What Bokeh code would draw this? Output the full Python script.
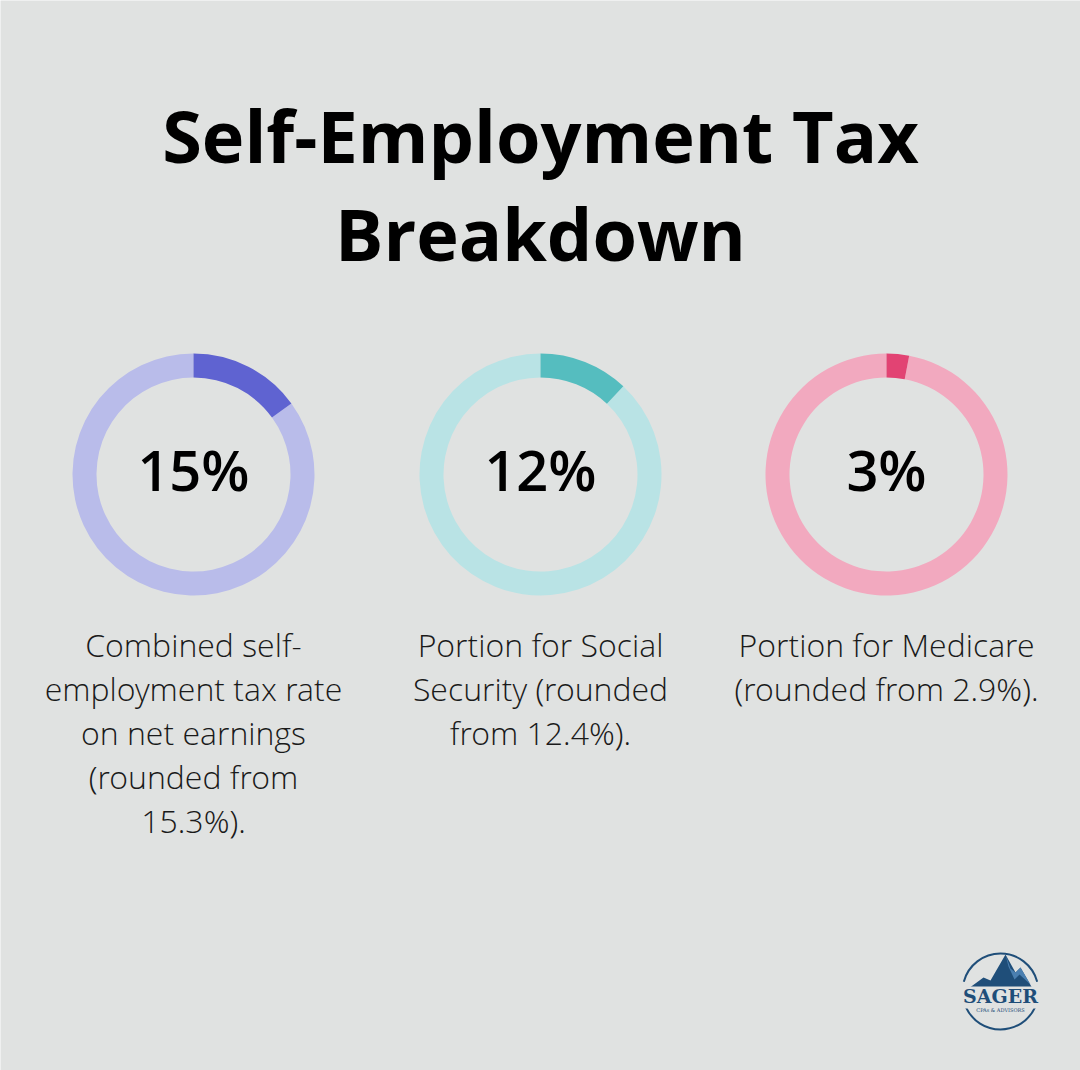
from bokeh.plotting import figure
from bokeh.models import Range1d
from bokeh.core.properties import value
from bokeh.embed import file_html
from bokeh.resources import INLINE
import math

# --- data ---------------------------------------------------------------
title_lines = ["Self-Employment Tax", "Breakdown"]
rate_labels = ["15%", "12%", "3%"]
rate_values = [15, 12, 3]
descriptions = [
    ["Combined self-", "employment tax rate", "on net earnings", "(rounded from", "15.3%)."],
    ["Portion for Social", "Security (rounded", "from 12.4%)."],
    ["Portion for Medicare", "(rounded from 2.9%)."],
]
dark_colors = ["#5F63D1", "#55BDBF", "#E24373"]
light_colors = ["#B9BCEA", "#B9E3E5", "#F2A9BF"]

# --- canvas -------------------------------------------------------------
W, H = 1080, 1070
BG = "#E0E2E1"

p = figure(width=W, height=H, x_range=Range1d(0, W), y_range=Range1d(0, H),
           output_backend="svg", toolbar_location=None, min_border=0)
p.axis.visible = False
p.grid.visible = False
p.outline_line_color = None
p.background_fill_color = BG
p.border_fill_color = BG


def Y(py, size=0):
    """Top-down pixel row -> data y; lifts text so its baseline lands on py."""
    return H - py + 0.42 * size


FONT = value("Open Sans")

# title
TS = 72
p.text(x=[W / 2, W / 2], y=[Y(165, TS), Y(263, TS)], text=title_lines,
       text_font=FONT, text_font_style="bold", text_font_size=f"{TS}px",
       text_align="center", text_baseline="alphabetic", text_color="#000000")

# donuts
centers_x = [193, 540, 886]
cy = Y(474)
r_out, r_in = 121, 97
top = math.pi / 2
PS, DS = 56, 32
for cx, v, lab, dc, lc, desc in zip(centers_x, rate_values, rate_labels,
                                    dark_colors, light_colors, descriptions):
    sweep = v / 100 * 2 * math.pi
    # remaining share of the ring
    p.annular_wedge(x=[cx], y=[cy], inner_radius=r_in, outer_radius=r_out,
                    start_angle=top, end_angle=top - sweep + 2 * math.pi,
                    direction="anticlock", fill_color=lc, line_color=None)
    # highlighted share, clockwise from 12 o'clock
    p.annular_wedge(x=[cx], y=[cy], inner_radius=r_in, outer_radius=r_out,
                    start_angle=top - sweep, end_angle=top,
                    direction="anticlock", fill_color=dc, line_color=None)
    p.text(x=[cx], y=[Y(492, PS)], text=[lab], text_font=value("Open Sans SemiBold"),
           text_font_size=f"{PS}px",
           text_align="center", text_baseline="alphabetic", text_color="#000000")
    p.text(x=[cx] * len(desc), y=[Y(657 + 44 * i, DS) for i in range(len(desc))],
           text=desc, text_font=value("Open Sans Light"), text_font_size=f"{DS}px",
           text_align="center", text_baseline="alphabetic", text_color="#1a1a1a")

# --- logo ---------------------------------------------------------------
LOGO = "#1F4E79"
lx, ly, lr = 1000, 991, 38
p.arc(x=[lx], y=[Y(ly)], radius=lr, start_angle=math.radians(15),
      end_angle=math.radians(165), line_color=LOGO, line_width=2)
p.arc(x=[lx], y=[Y(ly)], radius=lr, start_angle=math.radians(-155),
      end_angle=math.radians(-25), line_color=LOGO, line_width=2)
mx = [968, 983, 990, 1005, 1015, 1020, 1032]
my = [988, 977, 980, 954, 972, 967, 988]
p.patch(x=mx, y=[Y(v) for v in my], fill_color=LOGO, line_color=None)
hx = [1005, 1010, 1015, 1020, 1030, 1019, 1014, 1008]
hy = [954, 968, 972, 967, 984, 974, 979, 966]
p.patch(x=hx, y=[Y(v) for v in hy], fill_color="#4A7FB0", line_color=None)
p.rect(x=[lx], y=[Y(997)], width=84, height=22, fill_color=BG, line_color=None)
p.text(x=[lx], y=[Y(1004, 21)], text=["SAGER"], text_font=value("DejaVu Serif"),
       text_font_style="bold", text_font_size="19px", text_align="center",
       text_baseline="alphabetic", text_color=LOGO)
p.text(x=[lx], y=[Y(1012, 5)], text=["CPAs & ADVISORS"], text_font=value("DejaVu Serif"),
       text_font_size="5px", text_align="center", text_baseline="alphabetic",
       text_color=LOGO)

open("out.html", "w").write(file_html(p, INLINE))
